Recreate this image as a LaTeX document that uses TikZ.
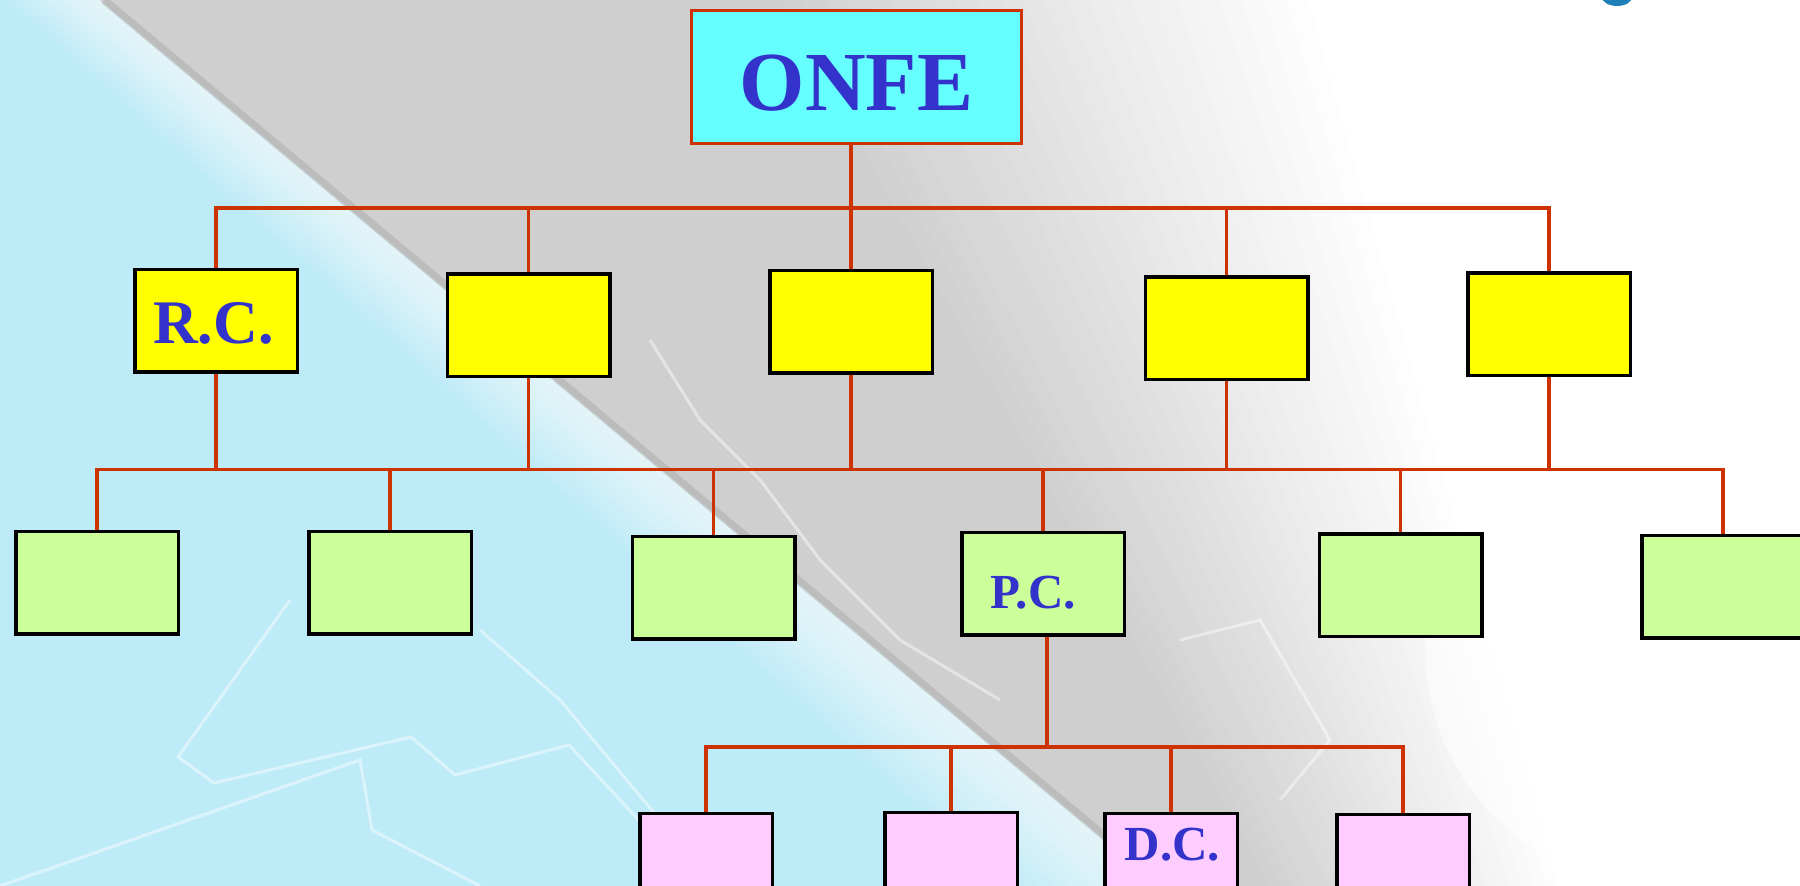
\documentclass[tikz,border=0pt]{standalone}
\usepackage{fontspec}
\setmainfont{Liberation Serif}

\definecolor{wirered}{HTML}{CC3300}
\definecolor{headcyan}{HTML}{66FFFF}
\definecolor{regionyellow}{HTML}{FFFF00}
\definecolor{provgreen}{HTML}{CCFF99}
\definecolor{distpink}{HTML}{FFCCFF}
\definecolor{labelblue}{HTML}{3333CC}
\definecolor{bgblue}{HTML}{BEEBF8}
\definecolor{bggray}{HTML}{CFCFCF}
\definecolor{logoblue}{HTML}{1E7FB8}

\begin{document}
\begin{tikzpicture}[
    x=0.5pt, y=-0.5pt,
    % Node styles
    office/.style={
        draw=black, line width=1.75pt, inner sep=0pt,
        minimum width=81.25pt, minimum height=51.25pt,
      },
    head office/.style={
        office, draw=wirered, line width=1.5pt, fill=headcyan,
        minimum width=165pt, minimum height=66.5pt,
      },
    region office/.style={office, fill=regionyellow},
    province office/.style={office, fill=provgreen},
    district office/.style={office, fill=distpink, minimum width=66.25pt},
    office label/.style={
        text=labelblue, inner sep=0pt,
        font=\bfseries\fontsize{24.5}{24.5}\selectfont,
      },
    % Connector style
    wire/.style={draw=wirered, line width=1.6pt},
  ]
  \useasboundingbox (0,0) rectangle (1800,886);
  \clip (0,0) rectangle (1800,886);

  % --- Background ---
  \fill[bgblue] (0,0) rectangle (1800,886);
  % pale streak along the edge of the grey band
  \foreach \i in {0,...,9} {
      \fill[white, opacity=.09] (10+\i*9,0) -- (100,0) -- (1160,886) -- (1010+\i*15,886) -- cycle;
    }
  \fill[bggray] (100,0) -- (1800,0) -- (1800,886) -- (1160,886) -- cycle;
  % grey fading out to the right
  \foreach \i in {0,...,24} {
      \pgfmathsetmacro\shadepc{int(96-\i*4)}
      \fill[bggray!\shadepc!white] (780+\i*22,0) -- (1800,0) -- (1800,886) -- (1270+\i*12,886) -- cycle;
    }
  \draw[gray!70, line width=4pt, opacity=.45] (104,0) -- (1164,886);
  \fill[white, opacity=.5] (1660,650) circle (235);
  \fill[logoblue] (1617,-3) ellipse (15 and 9);
  % faint circuit traces
  \begin{scope}[white, line width=1.5pt, opacity=.45]
    \draw (290,600) -- (178,757) -- (214,783) -- (411,737) -- (455,775) -- (569,745) -- (700,886);
    \draw (0,886) -- (360,760) -- (372,830) -- (480,886);
    \draw (480,630) -- (560,700) -- (660,820) -- (700,886);
    \draw (1180,640) -- (1260,620) -- (1330,740) -- (1280,800);
    \draw (650,340) -- (700,420) -- (760,480) -- (820,560) -- (900,640) -- (1000,700);
  \end{scope}

  % --- Offices ---
  \node[head office] (onfe) at (856.5,77) {};
  \node[office label, font=\bfseries\fontsize{42}{42}\selectfont]
    at ([yshift=-3.25pt]onfe.center) {ONFE};

  \node[region office] (rc) at (216,321) {};
  \foreach \n/\x/\y in {y2/528.5/325.5, y3/851/322, y4/1226.5/328.5, y5/1549/324.5} {
      \node[region office] (\n) at (\x,\y) {};
    }
  \node[office label, font=\bfseries\fontsize{31}{31}\selectfont]
    at ([xshift=-1.25pt, yshift=-1pt]rc.center) {R.C.};

  \foreach \n/\x/\y in {g1/97/583, g2/390/583, g3/713.5/588, pc/1043/584, g5/1400.5/585.5, g6/1723/587} {
      \node[province office] (\n) at (\x,\y) {};
    }
  \node[office label] at ([xshift=-5pt, yshift=-4.25pt]pc.center) {P.C.};

  \foreach \n/\x/\y in {p1/706/865, p2/951/864, dc/1171/865, p4/1403/866} {
      \node[district office] (\n) at (\x,\y) {};
    }
  \node[office label] at ([xshift=0.75pt, yshift=10.25pt]dc.center) {D.C.};

  % --- Connectors ---
  \coordinate (bus1) at (0,208);
  \coordinate (bus2) at (0,469.5);
  \coordinate (bus3) at (0,747);

  \draw[wire] (onfe.south -| y3.north) -- (y3.north);
  \draw[wire] (rc.north) |- (bus1 -| y5.north) -- (y5.north);
  \foreach \n in {y2,y4} {
      \draw[wire] (\n.north) -- (\n.north |- bus1);
    }

  \draw[wire] (g1.north) |- (bus2 -| g6.north) -- (g6.north);
  \foreach \n in {g2,g3,pc,g5} {
      \draw[wire] (\n.north) -- (\n.north |- bus2);
    }
  \foreach \n in {rc,y2,y3,y4,y5} {
      \draw[wire] (\n.south) -- (\n.south |- bus2);
    }

  \draw[wire] ([xshift=2pt]pc.south) -- ([xshift=2pt]pc.south |- bus3);
  \draw[wire] (p1.north) |- (bus3 -| p4.north) -- (p4.north);
  \foreach \n in {p2,dc} {
      \draw[wire] (\n.north) -- (\n.north |- bus3);
    }

\end{tikzpicture}
\end{document}
